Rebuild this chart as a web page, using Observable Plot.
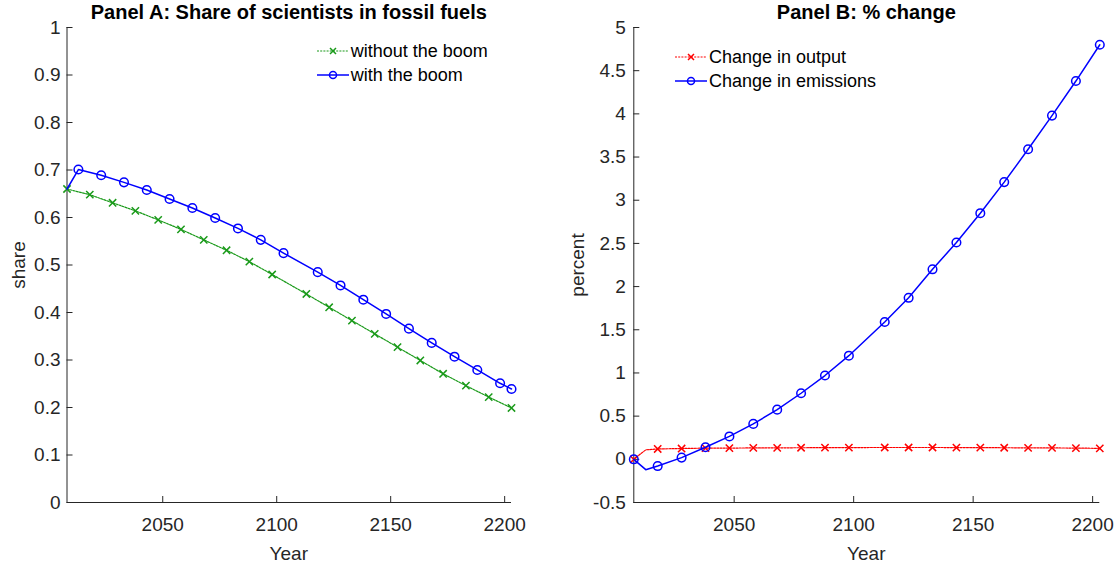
<!DOCTYPE html>
<html>
<head>
<meta charset="utf-8">
<script src="https://cdn.jsdelivr.net/npm/d3@7"></script>
<script src="https://cdn.jsdelivr.net/npm/@observablehq/plot@0.6"></script>
<style>
  html, body { margin: 0; padding: 0; background: #fff; }
  body { font-family: "Liberation Sans", Arial, Helvetica, sans-serif; color: #262626; }
  #wrap { position: relative; width: 1118px; height: 563px; overflow: hidden; }
  .panel { position: absolute; top: 0; width: 559px; height: 563px; }
  .lbl { position: absolute; white-space: nowrap; text-align: center; }
  .title { font-weight: bold; font-size: 20px; line-height: 24px; color: #000; width: 600px; }
  .axlbl { font-size: 19px; line-height: 22px; width: 200px; }
  .leg { position: absolute; font-size: 18px; line-height: 22px; white-space: nowrap; color: #000; }
  .leg svg { position: absolute; left: 0; top: 4px; }
  .leg span { position: absolute; left: 34px; top: 0; }
</style>
</head>
<body>
<div id="wrap">
  <div class="panel" id="panelA" style="left:0px"></div>
  <div class="panel" id="panelB" style="left:559px"></div>
</div>
<script>
// ---------- data ----------
const xTicks = [2050, 2100, 2150, 2200];
const shareTicks = [0, 0.1, 0.2, 0.3, 0.4, 0.5, 0.6, 0.7, 0.8, 0.9, 1];
const percentTicks = [-0.5, 0, 0.5, 1, 1.5, 2, 2.5, 3, 3.5, 4, 4.5, 5];

// Panel A: share of scientists in fossil fuels
const yearsNoBoom = [2008, 2018, 2028, 2038, 2048, 2058, 2068, 2078, 2088, 2098, 2113, 2123, 2133, 2143, 2153, 2163, 2173, 2183, 2193, 2203];
const shareNoBoom = [0.660, 0.648, 0.631, 0.614, 0.595, 0.575, 0.553, 0.531, 0.507, 0.480, 0.439, 0.411, 0.383, 0.355, 0.327, 0.299, 0.271, 0.246, 0.222, 0.199];
const yearsBoom = [2008, 2013, 2023, 2033, 2043, 2053, 2063, 2073, 2083, 2093, 2103, 2118, 2128, 2138, 2148, 2158, 2168, 2178, 2188, 2198, 2203];
const shareBoom = [0.660, 0.701, 0.689, 0.674, 0.658, 0.639, 0.620, 0.599, 0.577, 0.553, 0.525, 0.485, 0.457, 0.427, 0.397, 0.366, 0.336, 0.307, 0.279, 0.251, 0.239];
const boomMarked = [false, true, true, true, true, true, true, true, true, true, true, true, true, true, true, true, true, true, true, true, true];

// Panel B: % change
const yearsB = [2008, 2013, 2018, 2028, 2038, 2048, 2058, 2068, 2078, 2088, 2098, 2113, 2123, 2133, 2143, 2153, 2163, 2173, 2183, 2193, 2203];
const outputChange = [0, 0.110, 0.120, 0.125, 0.130, 0.130, 0.132, 0.133, 0.134, 0.135, 0.136, 0.137, 0.137, 0.137, 0.136, 0.135, 0.134, 0.133, 0.132, 0.130, 0.127];
const emissionsChange = [0, -0.120, -0.078, 0.020, 0.140, 0.265, 0.410, 0.575, 0.765, 0.970, 1.200, 1.590, 1.870, 2.200, 2.510, 2.850, 3.210, 3.590, 3.980, 4.380, 4.800];
const markedB = [true, false, true, true, true, true, true, true, true, true, true, true, true, true, true, true, true, true, true, true, true];

const seriesNames = {
  noBoom: "without the boom", boom: "with the boom",
  output: "Change in output", emissions: "Change in emissions"
};
const titles = ["Panel A: Share of scientists in fossil fuels", "Panel B: % change"];

// ---------- styling ----------
const FONT = "'Liberation Sans', Arial, Helvetica, sans-serif";
const AX = "#262626";
const GREEN = "#1a9a1a", BLUE = "#0000ff", RED = "#ff0000";
const xDomain = [2008, 2203];

const dataNoBoom = yearsNoBoom.map((year, i) => ({year, v: shareNoBoom[i]}));
const dataBoom = yearsBoom.map((year, i) => ({year, v: shareBoom[i], m: boomMarked[i]}));
const dataOut = yearsB.map((year, i) => ({year, v: outputChange[i], m: markedB[i]}));
const dataEm = yearsB.map((year, i) => ({year, v: emissionsChange[i], m: markedB[i]}));

function axes(yDomain, yTicks, yPad) {
  return [
    Plot.ruleX([xDomain[0]], {stroke: AX, strokeWidth: 1}),
    Plot.ruleY([yDomain[0]], {stroke: AX, strokeWidth: 1}),
    Plot.axisX({ticks: xTicks, tickSize: -6, fill: "none", stroke: AX, label: null}),
    Plot.axisX({ticks: xTicks, tickSize: 0, tickPadding: 14.5, fill: AX, fontSize: 19, label: null, tickFormat: d => String(d)}),
    Plot.axisY({ticks: yTicks, tickSize: -6, fill: "none", stroke: AX, label: null}),
    Plot.axisY({ticks: yTicks, tickSize: 0, tickPadding: yPad, fill: AX, fontSize: 19, label: null, tickFormat: d => String(d)})
  ];
}

const common = {
  width: 559, height: 563, marginTop: 27, marginBottom: 61,
  style: {fontFamily: FONT, background: "transparent", overflow: "visible"}
};

const plotA = Plot.plot({
  ...common, marginLeft: 66.5, marginRight: 48,
  x: {domain: xDomain},
  y: {domain: [0, 1]},
  marks: [
    ...axes([0, 1], shareTicks, 6.5),
    Plot.line(dataNoBoom, {x: "year", y: "v", stroke: GREEN, strokeWidth: 1.2, strokeDasharray: "2,1.2"}),
    Plot.dot(dataNoBoom, {x: "year", y: "v", symbol: "times", r: 3.4, stroke: GREEN, strokeWidth: 1.5}),
    Plot.line(dataBoom, {x: "year", y: "v", stroke: BLUE, strokeWidth: 1.5}),
    Plot.dot(dataBoom, {filter: d => d.m, x: "year", y: "v", symbol: "circle", r: 4.3, stroke: BLUE, fill: "none", strokeWidth: 1.5})
  ]
});
document.getElementById("panelA").appendChild(plotA);

const plotB = Plot.plot({
  ...common, marginLeft: 74.3, marginRight: 18.7,
  x: {domain: xDomain},
  y: {domain: [-0.5, 5]},
  marks: [
    ...axes([-0.5, 5], percentTicks, 8),
    Plot.line(dataOut, {x: "year", y: "v", stroke: RED, strokeWidth: 1.2, strokeDasharray: "2,1.2"}),
    Plot.dot(dataOut, {filter: d => d.m, x: "year", y: "v", symbol: "times", r: 3.4, stroke: RED, strokeWidth: 1.5}),
    Plot.line(dataEm, {x: "year", y: "v", stroke: BLUE, strokeWidth: 1.5}),
    Plot.dot(dataEm, {filter: d => d.m, x: "year", y: "v", symbol: "circle", r: 4.3, stroke: BLUE, fill: "none", strokeWidth: 1.5})
  ]
});
document.getElementById("panelB").appendChild(plotB);

// ---------- titles, axis labels, legends (HTML overlays) ----------
const wrap = document.getElementById("wrap");
function addLabel(text, cls, cx, cy, w, h, rotate) {
  const d = document.createElement("div");
  d.className = "lbl " + cls;
  d.textContent = text;
  d.style.left = (cx - w / 2) + "px";
  d.style.top = (cy - h / 2) + "px";
  d.style.width = w + "px";
  d.style.height = h + "px";
  if (rotate) d.style.transform = "rotate(-90deg)";
  wrap.appendChild(d);
}
addLabel(titles[0], "title", 288.8, 12, 600, 24);
addLabel(titles[1], "title", 866.3, 12, 600, 24);
addLabel("Year", "axlbl", 288.8, 554, 200, 22);
addLabel("Year", "axlbl", 866.3, 554, 200, 22);
addLabel("share", "axlbl", 19, 265, 200, 22, true);
addLabel("percent", "axlbl", 578, 265, 200, 22, true);

function legendItem(text, color, marker, dashed, x, cy) {
  const d = document.createElement("div");
  d.className = "leg";
  d.style.left = x + "px";
  d.style.top = (cy - 11) + "px";
  const ns = "http://www.w3.org/2000/svg";
  const s = document.createElementNS(ns, "svg");
  s.setAttribute("width", 32); s.setAttribute("height", 14);
  const l = document.createElementNS(ns, "line");
  l.setAttribute("x1", 0); l.setAttribute("x2", 32); l.setAttribute("y1", 7); l.setAttribute("y2", 7);
  l.setAttribute("stroke", color); l.setAttribute("stroke-width", dashed ? 1.2 : 1.5);
  if (dashed) l.setAttribute("stroke-dasharray", "2,1.2");
  s.appendChild(l);
  if (marker === "circle") {
    const c = document.createElementNS(ns, "circle");
    c.setAttribute("cx", 16); c.setAttribute("cy", 7); c.setAttribute("r", 3.5);
    c.setAttribute("fill", "none"); c.setAttribute("stroke", color); c.setAttribute("stroke-width", 1.5);
    s.appendChild(c);
  } else {
    const p = document.createElementNS(ns, "path");
    p.setAttribute("d", "M13,4L19,10M13,10L19,4");
    p.setAttribute("stroke", color); p.setAttribute("stroke-width", 1.5);
    s.appendChild(p);
  }
  d.appendChild(s);
  const sp = document.createElement("span");
  sp.textContent = text;
  d.appendChild(sp);
  wrap.appendChild(d);
}
legendItem(seriesNames.noBoom, GREEN, "times", true, 316.7, 50.7);
legendItem(seriesNames.boom, BLUE, "circle", false, 316.7, 75);
legendItem(seriesNames.output, RED, "times", true, 675, 57);
legendItem(seriesNames.emissions, BLUE, "circle", false, 675, 81);
</script>
</body>
</html>
